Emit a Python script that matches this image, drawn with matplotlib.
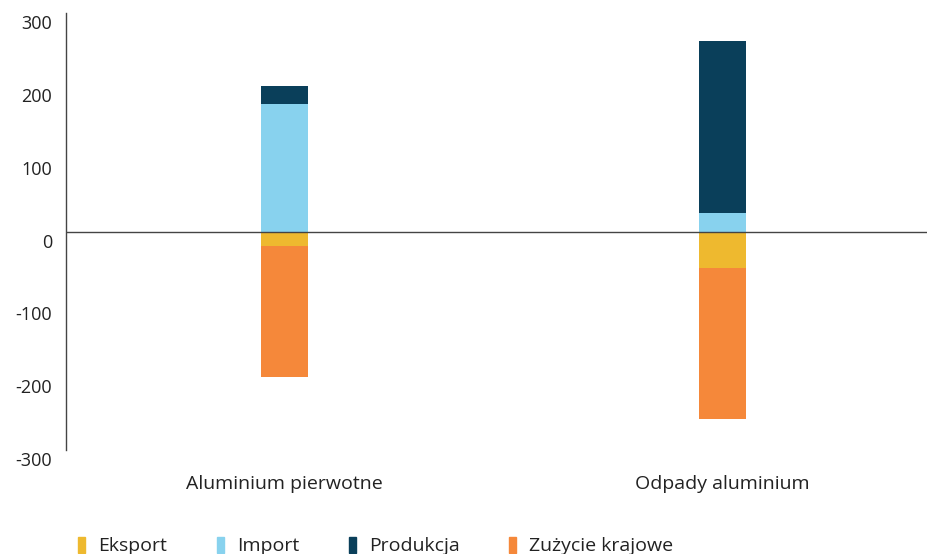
import numpy as np
import matplotlib
matplotlib.use("Agg")
import matplotlib.pyplot as plt
import matplotlib.transforms as mtransforms
from matplotlib.patches import Patch

plt.rcParams['font.family'] = ['Open Sans', 'DejaVu Sans']
plt.rcParams['axes.unicode_minus'] = False

# data
categories = ["Aluminium pierwotne", "Odpady aluminium"]
eksport = [-20, -50]
import_ = [175, 25]
produkcja = [25, 237]
zuzycie = [-180, -207]

colors = {
    "Eksport": "#EEB92F",
    "Import": "#88D2EE",
    "Produkcja": "#0A3F5A",
    "Zużycie krajowe": "#F5883A",
}

fig = plt.figure(figsize=(9.28, 5.54), dpi=100)
ax = fig.add_axes([0.0711, 0.1877, 0.9289, 0.7888])

x = np.arange(len(categories))
w = 0.107

# positive stack
ax.bar(x, import_, w, color=colors["Import"])
ax.bar(x, produkcja, w, bottom=import_, color=colors["Produkcja"])
# negative stack
ax.bar(x, eksport, w, color=colors["Eksport"])
ax.bar(x, zuzycie, w, bottom=eksport, color=colors["Zużycie krajowe"])

ax.axhline(0, color="#444444", lw=1.0, zorder=3)

ax.set_ylim(-300, 300)
ax.set_xlim(-0.5, 1.47)
ax.set_yticks(np.arange(-300, 301, 100))
ax.set_xticks(x)
ax.set_xticklabels(categories, fontsize=14, color="#222222")
ax.tick_params(axis="both", length=0, colors="#222222")
ax.tick_params(axis="y", pad=10, labelsize=13)
ax.tick_params(axis="x", pad=18)

for s in ["top", "right", "bottom"]:
    ax.spines[s].set_visible(False)
ax.spines["left"].set_color("#444444")
ax.spines["left"].set_linewidth(1.0)

# tick labels sit a little below their values
offset = mtransforms.ScaledTranslation(0, -0.09, fig.dpi_scale_trans)
for lab in ax.get_yticklabels():
    lab.set_transform(lab.get_transform() + offset)

handles = [Patch(color=c, label=k) for k, c in colors.items()]
fig.legend(handles=handles, loc="center left", bbox_to_anchor=(0.084, 0.014),
           ncol=4, frameon=False, fontsize=14, handlelength=0.36,
           handleheight=0.85, handletextpad=0.68, columnspacing=2.55,
           borderpad=0, borderaxespad=0, labelcolor="#222222")

fig.savefig("out.png", dpi=100)
